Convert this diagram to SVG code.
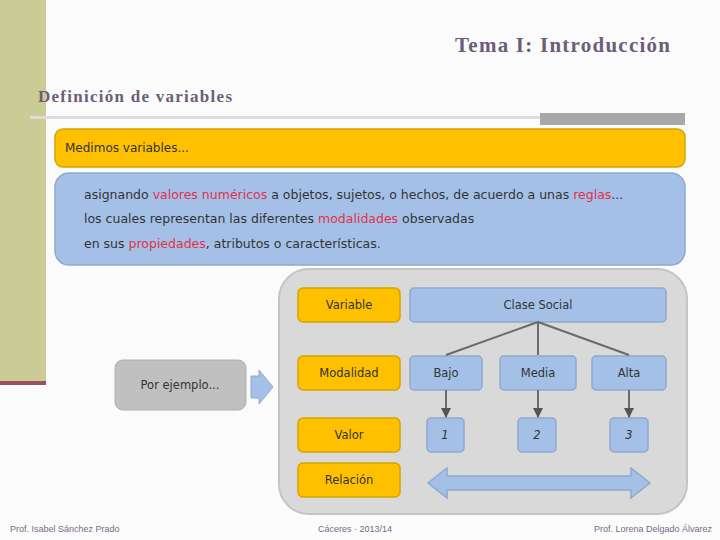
<svg xmlns="http://www.w3.org/2000/svg" width="720" height="540" viewBox="0 0 720 540">
<style>
.ttl{font-family:"Liberation Serif",serif;font-weight:bold;fill:#6e5d78}
.t{font-family:"DejaVu Sans",Verdana,sans-serif;fill:#333}
.red{fill:#e0304a}
.yel{fill:#ffc000;stroke:#d6a400;stroke-width:1.5}
.blu{fill:#a5c0e6;stroke:#8fa9cf;stroke-width:1.5}
.lab{font-family:"DejaVu Sans",Verdana,sans-serif;font-size:11.5px;fill:#333;text-anchor:middle}
.foot{font-family:"Liberation Sans",Arial,sans-serif;font-size:9px;fill:#7a6a88}
</style>
<defs>
<marker id="ah" viewBox="0 0 10 10" refX="9" refY="5" markerWidth="5" markerHeight="5" orient="auto"><path d="M0,0 L10,5 L0,10 z" fill="#555"/></marker>
</defs>
<rect width="720" height="540" fill="#fbfbfb"/>
<rect x="0" y="0" width="46" height="384" fill="#cbcb95"/>
<rect x="0" y="381" width="46" height="4" fill="#9a5060"/>
<text class="ttl" x="455" y="52" font-size="21" textLength="215">Tema I: Introducción</text>
<text class="ttl" x="38" y="102" font-size="17" textLength="194">Definición de variables</text>
<rect x="30" y="116" width="510" height="3" fill="#dcdcdc"/>
<rect x="540" y="113" width="145" height="12" fill="#a8a8a8"/>

<g id="medimos">
<rect class="yel" x="55" y="129" width="630" height="38" rx="8"/>
<text class="t" x="65" y="152" font-size="12">Medimos variables...</text>
</g>
<g id="definicion">
<rect class="blu" x="55" y="173" width="630" height="92" rx="14"/>
<text class="t" x="84" y="199" font-size="12.5">asignando <tspan class="red">valores numéricos</tspan> a objetos, sujetos, o hechos, de acuerdo a unas <tspan class="red">reglas</tspan>...</text>
<text class="t" x="84" y="223" font-size="12.5">los cuales representan las diferentes <tspan class="red">modalidades</tspan> observadas</text>
<text class="t" x="84" y="248" font-size="12.5">en sus <tspan class="red">propiedades</tspan>, atributos o características.</text>
</g>

<g id="contenedor">
<rect x="279" y="269" width="408" height="245" rx="30" fill="#d9d9d9" stroke="#c4c4c4" stroke-width="2"/>
</g>
<g id="ejemplo">
<rect x="115" y="360" width="131" height="50" rx="8" fill="#c0c0c0" stroke="#b0b0b0"/>
<text class="lab" x="180" y="389" font-size="12.5">Por ejemplo...</text>
</g>
<g id="flecha-ejemplo">
<path d="M251,376 L259,376 L259,370 L273,387 L259,404 L259,398 L251,398 z" fill="#a5c0e6" stroke="#8fa9cf"/>
</g>

<g id="variable"><rect class="yel" x="298" y="288" width="102" height="34" rx="5"/><text class="lab" x="349" y="309">Variable</text></g>
<g id="modalidad"><rect class="yel" x="298" y="356" width="102" height="34" rx="5"/><text class="lab" x="349" y="377">Modalidad</text></g>
<g id="valor"><rect class="yel" x="298" y="418" width="102" height="34" rx="5"/><text class="lab" x="349" y="439">Valor</text></g>
<g id="relacion"><rect class="yel" x="298" y="463" width="102" height="34" rx="5"/><text class="lab" x="349" y="484">Relación</text></g>

<g id="clase"><rect class="blu" x="410" y="288" width="256" height="34" rx="4"/><text class="lab" x="538" y="309">Clase Social</text></g>
<g id="bajo"><rect class="blu" x="410" y="356" width="72" height="34" rx="4"/><text class="lab" x="446" y="377">Bajo</text></g>
<g id="media"><rect class="blu" x="500" y="356" width="76" height="34" rx="4"/><text class="lab" x="538" y="377">Media</text></g>
<g id="alta"><rect class="blu" x="592" y="356" width="74" height="34" rx="4"/><text class="lab" x="629" y="377">Alta</text></g>
<g id="v1"><rect class="blu" x="427" y="418" width="37" height="34" rx="4"/><text class="lab" x="445" y="439" font-style="italic">1</text></g>
<g id="v2"><rect class="blu" x="518" y="418" width="38" height="34" rx="4"/><text class="lab" x="537" y="439" font-style="italic">2</text></g>
<g id="v3"><rect class="blu" x="610" y="418" width="38" height="34" rx="4"/><text class="lab" x="629" y="439" font-style="italic">3</text></g>

<g id="conectores" stroke="#6a6a6a" stroke-width="2" fill="none">
<line x1="538" y1="322" x2="446" y2="355"/>
<line x1="538" y1="322" x2="538" y2="355"/>
<line x1="538" y1="322" x2="629" y2="355"/>
<line x1="446" y1="390" x2="446" y2="417" marker-end="url(#ah)"/>
<line x1="538" y1="390" x2="538" y2="417" marker-end="url(#ah)"/>
<line x1="629" y1="390" x2="629" y2="417" marker-end="url(#ah)"/>
</g>
<g id="relacion-flecha">
<path d="M428,483 L447,468 L447,476 L631,476 L631,468 L650,483 L631,498 L631,490 L447,490 L447,498 z" fill="#a5c0e6" stroke="#8fa9cf" stroke-width="1.5"/>
</g>

<text class="foot" x="10" y="532">Prof. Isabel Sánchez Prado</text>
<text class="foot" x="355" y="532" text-anchor="middle">Cáceres · 2013/14</text>
<text class="foot" x="712" y="532" text-anchor="end">Prof. Lorena Delgado Álvarez</text>
</svg>
